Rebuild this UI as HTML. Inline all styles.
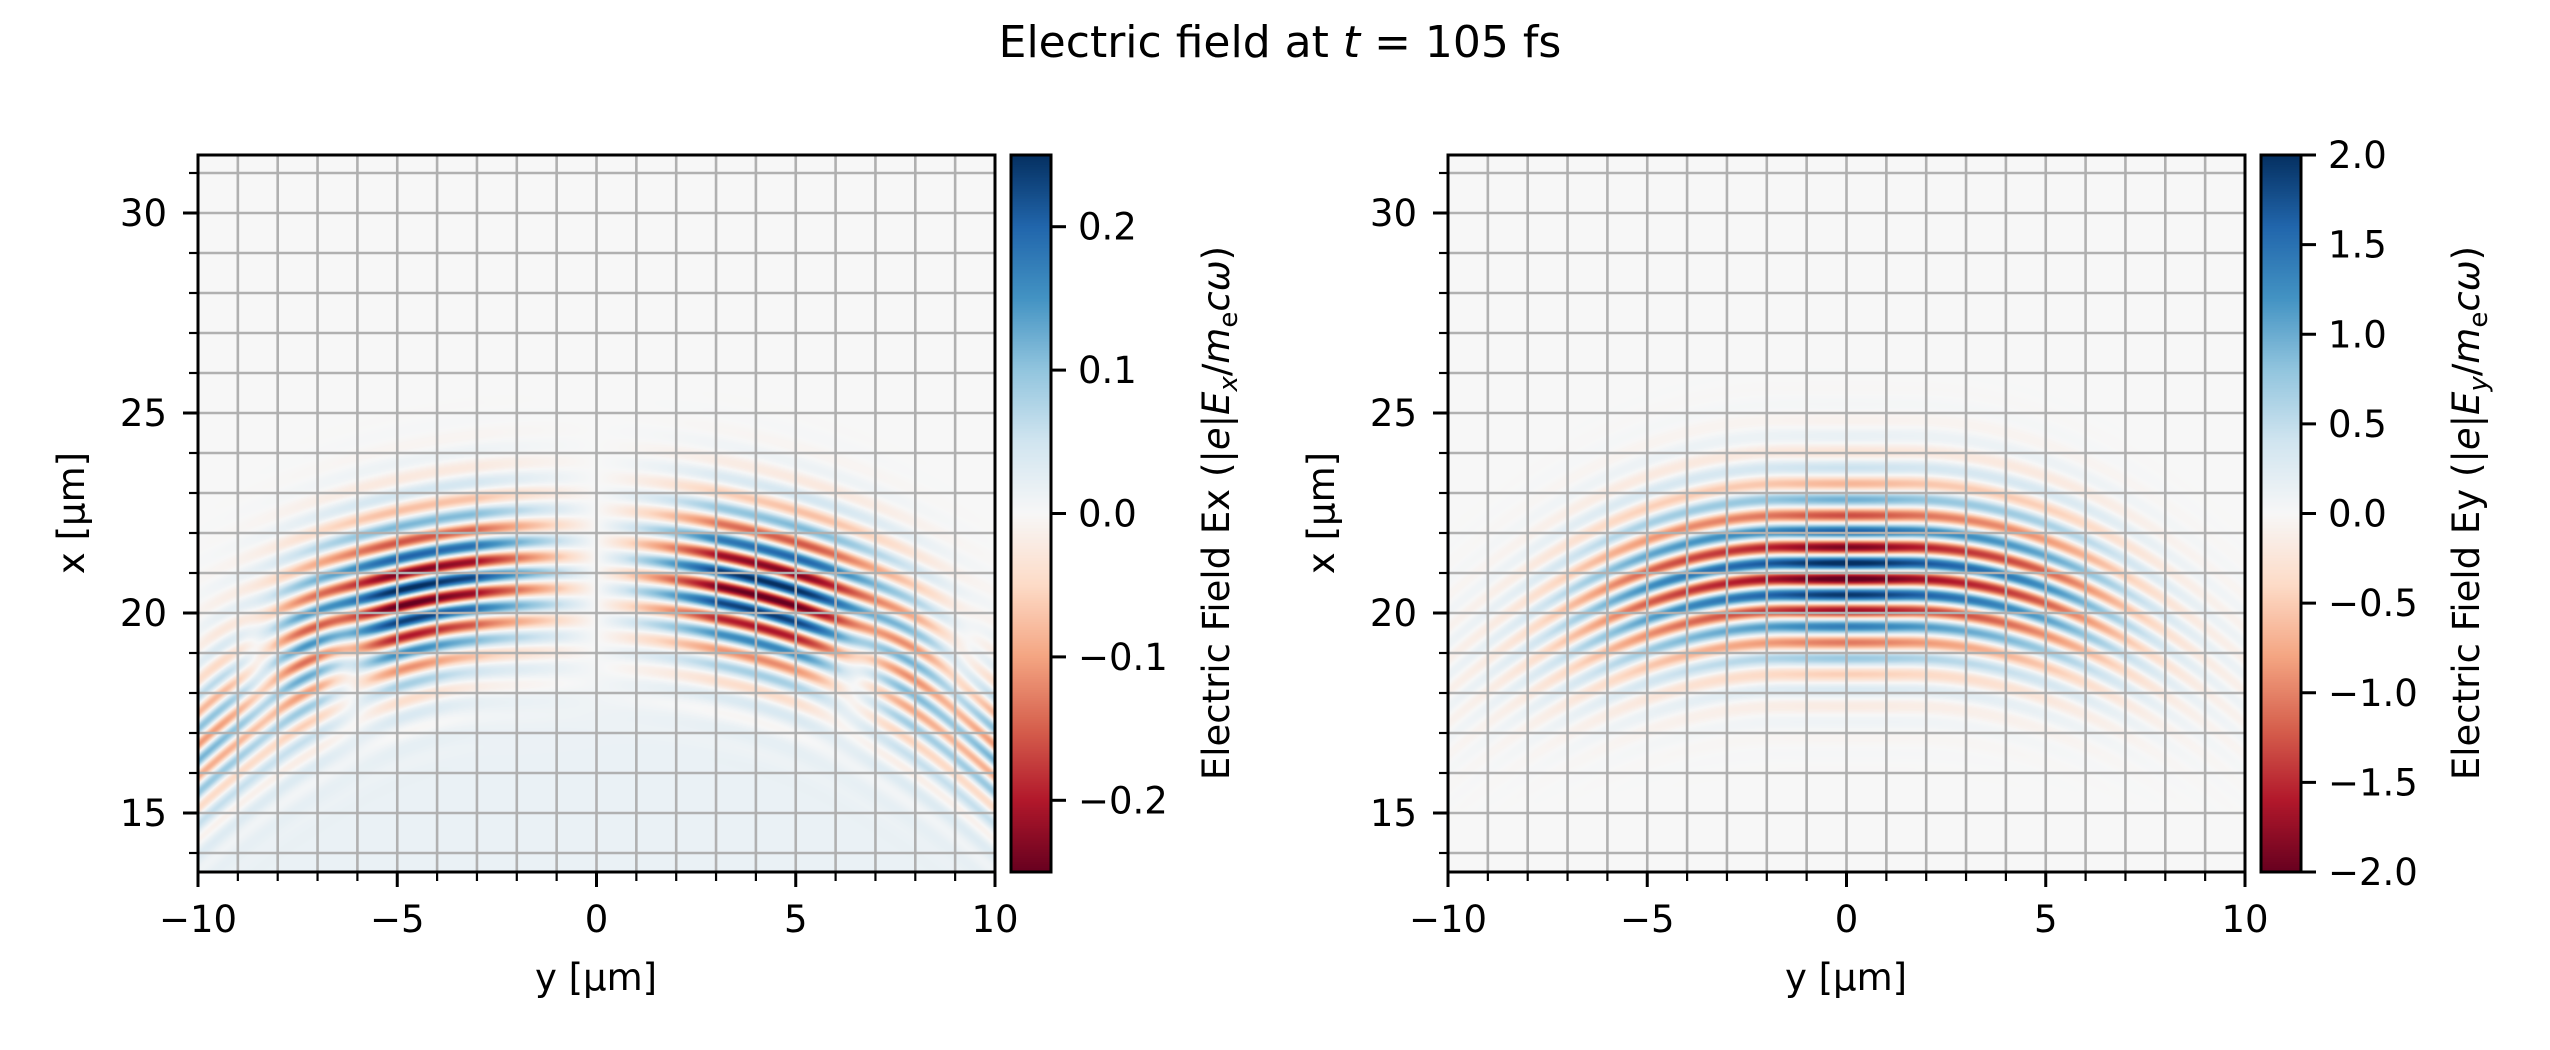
<!DOCTYPE html>
<html><head><meta charset="utf-8">
<style>
html,body{margin:0;padding:0;background:#fff;width:2550px;height:1050px;overflow:hidden}
#wrap{position:relative;width:2550px;height:1050px}
canvas{position:absolute}
svg{position:absolute;left:0;top:0}
text{font-family:"DejaVu Sans","Liberation Sans",sans-serif;fill:#000}
</style></head><body><div id="wrap">
<canvas id="c1" width="797" height="717" style="left:198px;top:155px"></canvas>
<canvas id="c2" width="797" height="717" style="left:1448px;top:155px"></canvas>
<canvas id="cb1" width="40" height="717" style="left:1011px;top:155px"></canvas>
<canvas id="cb2" width="40" height="717" style="left:2261px;top:155px"></canvas>
<svg id="s" width="2550" height="1050" xmlns="http://www.w3.org/2000/svg"></svg>
</div>
<script>
const CM=[[103,0,31],[178,24,43],[214,96,77],[244,165,130],[253,219,199],[247,247,247],[209,229,240],[146,197,222],[67,147,195],[33,102,172],[5,48,97]];
function col(v){let t=(v+1)/2;if(t<0)t=0;if(t>1)t=1;let f=t*10,i=Math.floor(f);if(i>=10)i=9;let r=f-i,a=CM[i],b=CM[i+1];return[a[0]+(b[0]-a[0])*r,a[1]+(b[1]-a[1])*r,a[2]+(b[2]-a[2])*r];}
const W=797,H=717;
function xOf(py){return 31.45-(py+0.5)/40;}
function yOf(px){return -10+(px+0.5)*20/W;}
const k=2*Math.PI/0.8;
function ex(x,y){
  const u=y/5;
  const au=Math.abs(u);
  const a=-Math.sign(u)*Math.min(1,au*1.6)*Math.exp(-Math.pow(Math.max(0,au-1)/0.55,2));
  const x0=21-0.02*y*y;
  const env=Math.exp(-Math.pow((x-x0)/1.9,2));
  let v=0.95*a*env*Math.cos(k*(x-21+0.025*y*y)+0.3*y);
  const x1=20-0.035*y*y;
  v+=0.45*Math.pow(au/2,1.5)*Math.exp(-Math.pow((x-x1)/1.8,2))*Math.cos(k*(x-20+0.045*y*y));
  v+=0.07/(1+Math.exp((x-(18-0.02*y*y))/0.5));
  return v;
}
function ey(x,y){
  const ay=Math.abs(y);
  const a=Math.exp(-Math.pow(ay/6.8,4))*(0.75+0.25*Math.exp(-ay*ay/3))+0.1*Math.exp(-Math.pow(ay/12,2));
  const d=Math.max(0,ay-1.5);
  const ph=0.05*d*d;
  const x0=21-0.035*d*d;
  const env=Math.exp(-Math.pow((x-x0)/2.1,2));
  return 0.95*a*env*Math.cos(k*(x-21.25+ph));
}
function paint(id,f,s){
  const c=document.getElementById(id).getContext('2d');const im=c.createImageData(W,H);const d=im.data;
  for(let py=0;py<H;py++){const x=xOf(py);for(let px=0;px<W;px++){const y=yOf(px);const cc=col(f(x,y)/s);const o=(py*W+px)*4;d[o]=cc[0];d[o+1]=cc[1];d[o+2]=cc[2];d[o+3]=255;}}
  c.putImageData(im,0,0);
}
paint('c1',ex,1);paint('c2',ey,1);
function cbar(id){const c=document.getElementById(id).getContext('2d');for(let py=0;py<717;py++){const cc=col(1-2*(py+0.5)/717);c.fillStyle='rgb('+cc.map(Math.round).join(',')+')';c.fillRect(0,py,40,1);}}
cbar('cb1');cbar('cb2');
let S='';
function panel(L,cbL,ticks,lab){
  const R=L+797,T=155,B=872;
  for(let i=-10;i<=10;i++){const X=L+(i+10)*39.85;S+=`<line x1="${X}" y1="${T}" x2="${X}" y2="${B}" stroke="#b0b0b0" stroke-width="2.6"/>`;}
  for(let v=14;v<=31;v++){const Y=213+(30-v)*40;S+=`<line x1="${L}" y1="${Y}" x2="${R}" y2="${Y}" stroke="#b0b0b0" stroke-width="2.6"/>`;}
  S+=`<rect x="${L}" y="${T}" width="797" height="717" fill="none" stroke="#000" stroke-width="3"/>`;
  for(let i=-10;i<=10;i++){const X=L+(i+10)*39.85;const mj=i%5==0;S+=`<line x1="${X}" y1="${B}" x2="${X}" y2="${B+(mj?15:9)}" stroke="#000" stroke-width="${mj?3:2.2}"/>`;
    if(mj)S+=`<text x="${X}" y="932" font-size="37" text-anchor="middle">${i<0?'\u2212'+(-i):i}</text>`;}
  for(let v=14;v<=31;v++){const Y=213+(30-v)*40;const mj=v%5==0;S+=`<line x1="${L}" y1="${Y}" x2="${L-(mj?15:9)}" y2="${Y}" stroke="#000" stroke-width="${mj?3:2.2}"/>`;
    if(mj)S+=`<text x="${L-31}" y="${Y+13}" font-size="37" text-anchor="end">${v}</text>`;}
  S+=`<text x="${L+398}" y="990" font-size="37" text-anchor="middle">y [µm]</text>`;
  S+=`<text transform="translate(${L-114},513) rotate(-90)" font-size="37" text-anchor="middle">x [µm]</text>`;
  S+=`<rect x="${cbL}" y="${T}" width="40" height="717" fill="none" stroke="#000" stroke-width="3"/>`;
  for(const t of ticks){const Y=T+(1-(t[0]+1)/2)*717;S+=`<line x1="${cbL+40}" y1="${Y}" x2="${cbL+55}" y2="${Y}" stroke="#000" stroke-width="3"/><text x="${cbL+67}" y="${Y+13}" font-size="37">${t[1]}</text>`;}
  S+=`<text transform="translate(${cbL+218},513) rotate(-90)" font-size="37" text-anchor="middle">Electric Field E${lab} (|<tspan font-style="italic">e</tspan>|<tspan font-style="italic">E</tspan><tspan font-size="26" dy="8" font-style="italic">${lab}</tspan><tspan dy="-8">/</tspan><tspan font-style="italic">m</tspan><tspan font-size="26" dy="8">e</tspan><tspan dy="-8" font-style="italic">cω</tspan>)</text>`;
}
const m='\u2212';
panel(198,1011,[[0.8,'0.2'],[0.4,'0.1'],[0,'0.0'],[-0.4,m+'0.1'],[-0.8,m+'0.2']],'x');
panel(1448,2261,[[1,'2.0'],[0.75,'1.5'],[0.5,'1.0'],[0.25,'0.5'],[0,'0.0'],[-0.25,m+'0.5'],[-0.5,m+'1.0'],[-0.75,m+'1.5'],[-1,m+'2.0']],'y');
S+=`<text x="1280" y="57" font-size="44" text-anchor="middle">Electric field at <tspan font-style="italic">t</tspan> = 105 fs</text>`;
document.getElementById('s').innerHTML=S;
</script>
</body></html>
